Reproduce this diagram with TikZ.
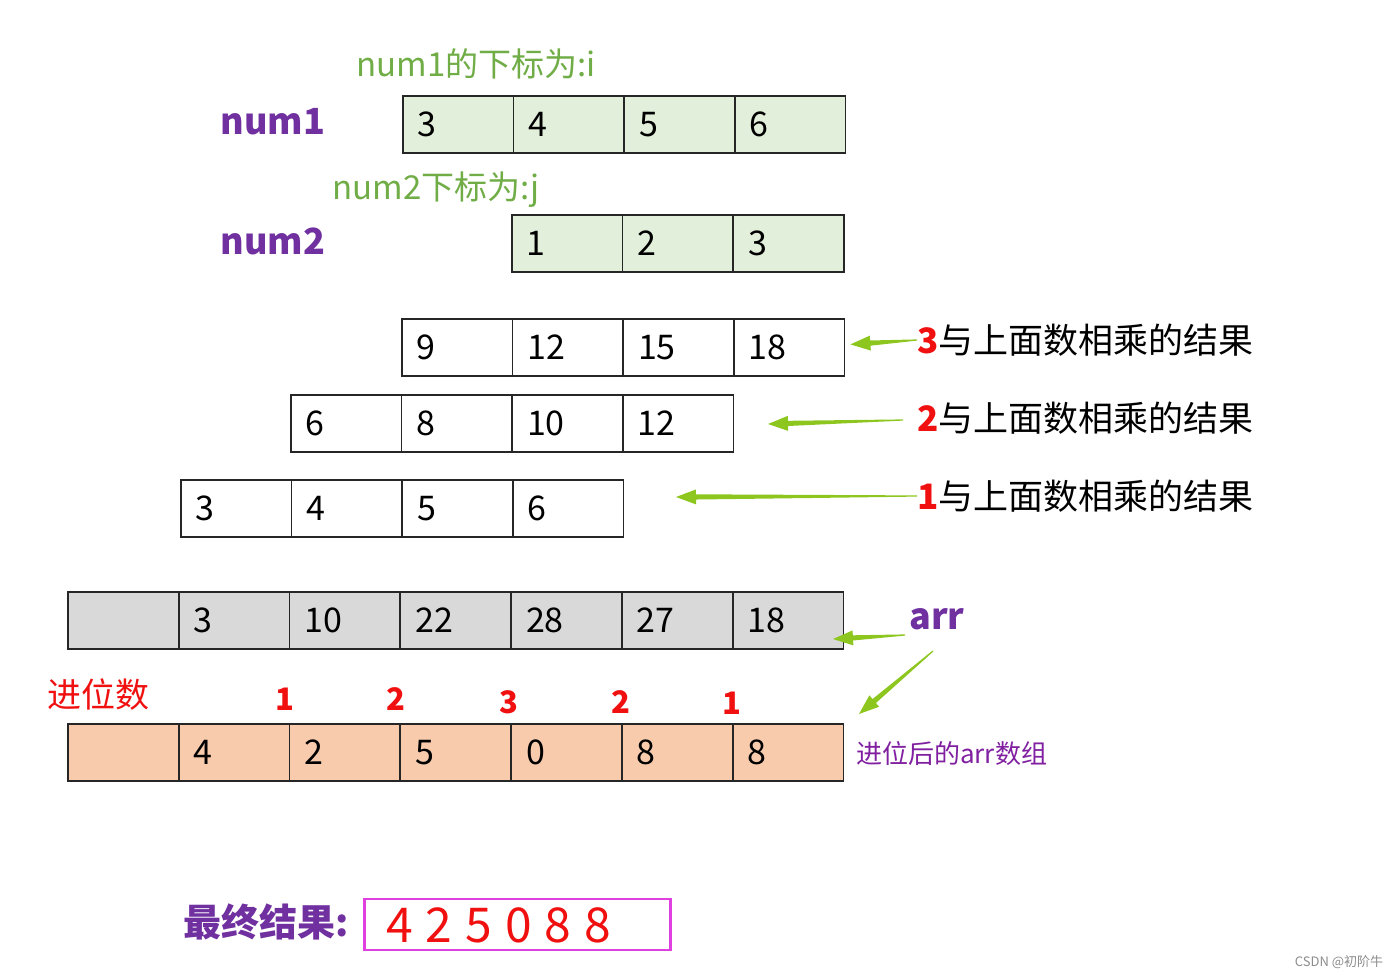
\documentclass[tikz,border=0pt]{standalone}
\usepackage{fontspec}
\setmainfont{Noto Sans CJK SC}
\usetikzlibrary{calc}
\definecolor{cellgreen}{HTML}{E2EFDA}
\definecolor{cellgray}{HTML}{D9D9D9}
\definecolor{cellorange}{HTML}{F8CBAD}
\definecolor{labgreen}{HTML}{70AD47}
\definecolor{labpurple}{HTML}{7030A0}
\definecolor{darkmag}{HTML}{8020A0}
\definecolor{arrowgreen}{HTML}{8DC61E}
\definecolor{boxmag}{HTML}{E040E0}
\definecolor{myred}{HTML}{F01010}
\newcommand\greenarrow[2]{%
  \coordinate (ga-h) at ($(#2)!20pt!(#1)$);
  \fill[arrowgreen] ($(#1)!0.6pt!90:(#2)$) -- ($(ga-h)!2.6pt!-90:(#1)$) -- ($(ga-h)!7.5pt!-90:(#1)$) -- (#2) -- ($(ga-h)!7.5pt!90:(#1)$) -- ($(ga-h)!2.6pt!90:(#1)$) -- ($(#1)!0.6pt!-90:(#2)$) -- cycle;}
\tikzset{
  cell/.style={draw=black!85, line width=1.8pt, minimum width=110.8pt, minimum height=57pt,
    inner xsep=15pt, inner ysep=0pt, text width=80.8pt, align=left, anchor=north west,
    font=\fontsize{34}{38}\selectfont},
  greencell/.style={cell, fill=cellgreen},
  whitecell/.style={cell, fill=white},
  graycell/.style={cell, fill=cellgray},
  orangecell/.style={cell, fill=cellorange},
  namelab/.style={text=labpurple, font=\bfseries\fontsize{36}{40}\selectfont, inner sep=0pt},
  idxlab/.style={text=labgreen, font=\fontsize{33}{38}\selectfont, inner sep=0pt},
  reslab/.style={anchor=west, inner sep=0pt, font=\fontsize{35}{39}\selectfont},
  carry/.style={text=myred, font=\bfseries\fontsize{31}{36}\selectfont, inner sep=0pt},
}
\begin{document}
\begin{tikzpicture}[x=1pt,y=-1pt]
\useasboundingbox (0,0) rectangle (1400,977);
% labels
\node[namelab] (n1lab) at (273,122) {num1};
\node[namelab] (n2lab) at (273,241) {num2};
\node[idxlab] (i1lab) at (476,64) {num1的下标为:i};
\node[idxlab] (i2lab) at (436,190) {num2下标为:j};
% num1
\foreach \v [count=\i from 0] in {3,4,5,6}
  \node[greencell] (a\i) at ({402+\i*110.6},95) {\v};
% num2
\foreach \v [count=\i from 0] in {1,2,3}
  \node[greencell] (b\i) at ({511+\i*110.6},214) {\v};
% partial rows
\foreach \v [count=\i from 0] in {9,12,15,18}
  \node[whitecell] (p\i) at ({401+\i*110.6},318) {\v};
\foreach \v [count=\i from 0] in {6,8,10,12}
  \node[whitecell] (q\i) at ({290+\i*110.6},394) {\v};
\foreach \v [count=\i from 0] in {3,4,5,6}
  \node[whitecell] (r\i) at ({180+\i*110.6},479) {\v};
% arr
\foreach \v [count=\i from 0] in {{},3,10,22,28,27,18}
  \node[graycell] (s\i) at ({67+\i*110.8},591) {\v};
% carried
\foreach \v [count=\i from 0] in {{},4,2,5,0,8,8}
  \node[orangecell] (t\i) at ({67+\i*110.8},723) {\v};
% right labels
\node[reslab] (l3) at (917,340) {\textcolor{myred}{\bfseries 3}与上面数相乘的结果};
\node[reslab] (l2) at (917,418) {\textcolor{myred}{\bfseries 2}与上面数相乘的结果};
\node[reslab] (l1) at (917,496) {\textcolor{myred}{\bfseries 1}与上面数相乘的结果};
\coordinate (h3) at ($(p3.east)+(5,-3)$);
\coordinate (h2) at (768,424);
\coordinate (h1) at (676,497);
\greenarrow{l3.west}{h3}
\coordinate (t2) at ($(l2.west)+(-14,2)$);
\greenarrow{t2}{h2}
\greenarrow{l1.west}{h1}
% arr labels
\node[namelab] (arrlab) at (937,619) {arr};
\node[anchor=west, inner sep=0pt, text=darkmag, font=\fontsize{26}{30}\selectfont] (newarr) at (856,754) {进位后的arr数组};
\coordinate (ta) at (905,635);
\coordinate (ha) at (833,639);
\greenarrow{ta}{ha}
\coordinate (tb) at (933,651);
\coordinate (hb) at (859,714);
\greenarrow{tb}{hb}
% carries
\node[anchor=west, inner sep=0pt, text=myred, font=\fontsize{34}{38}\selectfont] (carrylab) at (47,695) {进位数};
\node[carry] (c1) at (285,699) {1};
\node[carry] (c2) at (396,699) {2};
\node[carry] (c3) at (509,702) {3};
\node[carry] (c4) at (621,702) {2};
\node[carry] (c5) at (732,703) {1};
% final
\node[anchor=west, inner sep=0pt, text=labpurple, font=\bfseries\fontsize{38}{42}\selectfont] (finlab) at (183,922) {最终结果:};
\node[draw=boxmag, line width=2.5pt, minimum width=306pt, minimum height=51pt, inner sep=0pt] (finbox) at (517.5,924.5) {};
\node[anchor=west, inner sep=0pt, text=myred, font=\fontsize{48}{52}\selectfont] (findig) at (386,925)
  {4\hspace{13pt}2\hspace{13pt}5\hspace{13pt}0\hspace{13pt}8\hspace{13pt}8};
% watermark
\node[text=black!45, inner sep=0pt, font=\fontsize{13}{15}\selectfont] (wm) at (1339,962) {CSDN @初阶牛};
\end{tikzpicture}
\end{document}
